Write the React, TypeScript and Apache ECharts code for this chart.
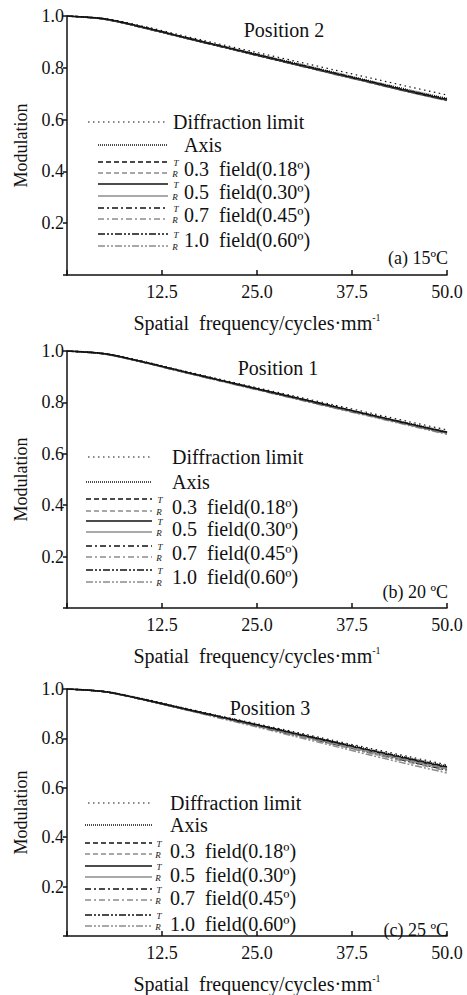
import React, { useEffect, useRef } from 'react';
import * as echarts from 'echarts';

// Spatial frequency sample points (cycles/mm)
const freq = [0, 5, 10, 15, 20, 25, 30, 35, 40, 45, 50];

// (a) Position 2, 15 ºC
const aDiff = [1.0, 0.99, 0.961, 0.926, 0.892, 0.859, 0.826, 0.793, 0.76, 0.727, 0.695];
const aAxis = [1.0, 0.989, 0.958, 0.922, 0.887, 0.853, 0.819, 0.784, 0.749, 0.715, 0.682];
const aT03 = [1.0, 0.989, 0.957, 0.921, 0.886, 0.851, 0.816, 0.781, 0.746, 0.711, 0.678];
const aR03 = [1.0, 0.988, 0.956, 0.92, 0.885, 0.85, 0.815, 0.78, 0.745, 0.71, 0.677];
const aT05 = [1.0, 0.988, 0.956, 0.92, 0.884, 0.849, 0.814, 0.779, 0.744, 0.709, 0.676];
const aR05 = [1.0, 0.988, 0.955, 0.919, 0.884, 0.849, 0.813, 0.778, 0.743, 0.708, 0.675];
const aT07 = [1.0, 0.988, 0.956, 0.92, 0.885, 0.85, 0.815, 0.78, 0.745, 0.71, 0.677];
const aR07 = [1.0, 0.988, 0.955, 0.919, 0.883, 0.848, 0.813, 0.777, 0.742, 0.707, 0.674];
const aT10 = [1.0, 0.988, 0.955, 0.919, 0.884, 0.849, 0.814, 0.779, 0.744, 0.709, 0.676];
const aR10 = [1.0, 0.987, 0.955, 0.918, 0.883, 0.847, 0.812, 0.776, 0.741, 0.706, 0.673];

// (b) Position 1, 20 ºC
const bDiff = [1.0, 0.99, 0.96, 0.925, 0.891, 0.857, 0.824, 0.791, 0.758, 0.725, 0.693];
const bAxis = [1.0, 0.989, 0.958, 0.923, 0.888, 0.854, 0.82, 0.786, 0.752, 0.719, 0.686];
const bT03 = [1.0, 0.989, 0.958, 0.922, 0.887, 0.853, 0.819, 0.785, 0.751, 0.717, 0.684];
const bR03 = [1.0, 0.989, 0.957, 0.921, 0.886, 0.852, 0.818, 0.783, 0.749, 0.715, 0.682];
const bT05 = [1.0, 0.989, 0.957, 0.922, 0.887, 0.852, 0.818, 0.784, 0.75, 0.716, 0.683];
const bR05 = [1.0, 0.988, 0.957, 0.921, 0.886, 0.851, 0.817, 0.782, 0.748, 0.714, 0.68];
const bT07 = [1.0, 0.989, 0.957, 0.921, 0.886, 0.852, 0.817, 0.783, 0.749, 0.715, 0.681];
const bR07 = [1.0, 0.988, 0.956, 0.92, 0.885, 0.85, 0.815, 0.781, 0.746, 0.712, 0.678];
const bT10 = [1.0, 0.988, 0.957, 0.921, 0.886, 0.851, 0.817, 0.782, 0.748, 0.714, 0.68];
const bR10 = [1.0, 0.988, 0.956, 0.92, 0.884, 0.849, 0.814, 0.779, 0.745, 0.71, 0.676];

// (c) Position 3, 25 ºC
const cDiff = [1.0, 0.99, 0.961, 0.926, 0.892, 0.859, 0.826, 0.792, 0.759, 0.726, 0.693];
const cAxis = [1.0, 0.989, 0.959, 0.924, 0.89, 0.856, 0.822, 0.788, 0.754, 0.721, 0.688];
const cT03 = [1.0, 0.989, 0.958, 0.923, 0.889, 0.855, 0.82, 0.786, 0.752, 0.718, 0.685];
const cR03 = [1.0, 0.989, 0.958, 0.923, 0.888, 0.853, 0.818, 0.783, 0.748, 0.714, 0.68];
const cT05 = [1.0, 0.989, 0.958, 0.923, 0.888, 0.854, 0.819, 0.785, 0.75, 0.716, 0.683];
const cR05 = [1.0, 0.989, 0.958, 0.922, 0.887, 0.851, 0.816, 0.78, 0.745, 0.71, 0.676];
const cT07 = [1.0, 0.989, 0.958, 0.922, 0.887, 0.852, 0.817, 0.782, 0.747, 0.712, 0.678];
const cR07 = [1.0, 0.989, 0.957, 0.921, 0.885, 0.849, 0.812, 0.776, 0.739, 0.703, 0.668];
const cT10 = [1.0, 0.989, 0.957, 0.922, 0.886, 0.85, 0.814, 0.778, 0.742, 0.707, 0.672];
const cR10 = [1.0, 0.988, 0.957, 0.92, 0.883, 0.846, 0.808, 0.77, 0.732, 0.695, 0.66];

const panelTitles = ['Position 2', 'Position 1', 'Position 3'];
const panelNotes = ['(a) 15ºC', '(b) 20 ºC', '(c) 25 ºC'];
const fieldLabels = ['0.3  field(0.18º)', '0.5  field(0.30º)', '0.7  field(0.45º)', '1.0  field(0.60º)'];
const seriesNames = ['Diffraction limit', 'Axis', 'T 0.3 field', 'R 0.3 field', 'T 0.5 field', 'R 0.5 field', 'T 0.7 field', 'R 0.7 field', 'T 1.0 field', 'R 1.0 field'];

const panelData = [
  [aDiff, aAxis, aT03, aR03, aT05, aR05, aT07, aR07, aT10, aR10],
  [bDiff, bAxis, bT03, bR03, bT05, bR05, bT07, bR07, bT10, bR10],
  [cDiff, cAxis, cT03, cR03, cT05, cR05, cT07, cR07, cT10, cR10],
];

const FONT = '"Liberation Serif", "Times New Roman", serif';
const BLACK = '#111';
const GRAY = '#8c8c8c';

const styles: any[] = [
  { color: BLACK, width: 1.2, type: [1.5, 3.5] },
  { color: BLACK, width: 1.3, type: [1, 1] },
  { color: BLACK, width: 1.5, type: [5, 3] },
  { color: GRAY, width: 1.5, type: [5, 3] },
  { color: BLACK, width: 1.6, type: 'solid' },
  { color: GRAY, width: 1.6, type: 'solid' },
  { color: BLACK, width: 1.5, type: [6, 3, 2, 3] },
  { color: GRAY, width: 1.5, type: [6, 3, 2, 3] },
  { color: BLACK, width: 1.5, type: [7, 2, 2, 2, 2, 2] },
  { color: GRAY, width: 1.5, type: [7, 2, 2, 2, 2, 2] },
];

const grids = [
  { left: 67, top: 16, width: 380, height: 259 },
  { left: 67, top: 351, width: 380, height: 257 },
  { left: 67, top: 689, width: 380, height: 259 },
];

const titlePos = [
  [284, 30],
  [278, 368],
  [270, 708],
];
const notePos = [
  [448, 258],
  [448, 592],
  [448, 930],
];

const legendCfg = [
  {
    diffY: 122, diffX1: 88, diffX2: 168, diffTextX: 173,
    axisY: 145, lx1: 98, lx2: 168, trX: 175, textX: 184,
    rows: [[162, 173, 169], [184, 196, 192], [208, 219, 215], [234, 246, 240]],
  },
  {
    diffY: 457, diffX1: 88, diffX2: 150, diffTextX: 172,
    axisY: 482, lx1: 86, lx2: 152, trX: 159, textX: 172,
    rows: [[499, 511, 507], [521, 532, 529], [546, 557, 553], [570, 582, 577]],
  },
  {
    diffY: 803, diffX1: 88, diffX2: 152, diffTextX: 170,
    axisY: 825, lx1: 85, lx2: 152, trX: 158, textX: 170,
    rows: [[843, 854, 851], [866, 877, 875], [889, 900, 898], [915, 926, 924]],
  },
];

function lineEl(x1: number, x2: number, y: number, st: any) {
  return {
    type: 'line',
    shape: { x1, y1: y, x2, y2: y },
    style: { stroke: st.color, lineWidth: st.width, lineDash: st.type === 'solid' ? null : st.type },
  };
}

function txt(x: number, y: number, text: string, size: number, align = 'left', italic = false) {
  return {
    type: 'text',
    x,
    y,
    style: {
      text,
      font: `${italic ? 'italic ' : ''}${size}px ${FONT}`,
      fill: BLACK,
      align,
      verticalAlign: 'middle',
      lineHeight: size,
    },
  };
}

function buildLegend(i: number) {
  const c = legendCfg[i];
  const els: any[] = [];
  els.push(lineEl(c.diffX1, c.diffX2, c.diffY, styles[0]));
  els.push(txt(c.diffTextX, c.diffY, seriesNames[0], 20));
  els.push(lineEl(c.lx1, c.lx2, c.axisY, styles[1]));
  els.push(txt(c.textX, c.axisY, seriesNames[1], 20));
  c.rows.forEach((r, k) => {
    els.push(lineEl(c.lx1, c.lx2, r[0], styles[2 + k * 2]));
    els.push(lineEl(c.lx1, c.lx2, r[1], styles[3 + k * 2]));
    els.push(txt(c.trX + 1, r[0] + 0.5, 'T', 9, 'center', true));
    els.push(txt(c.trX, r[1] + 1, 'R', 9, 'center', true));
    els.push(txt(c.textX, r[2], fieldLabels[k], 20));
  });
  els.push(txt(titlePos[i][0], titlePos[i][1], panelTitles[i], 20, 'center'));
  els.push(txt(notePos[i][0], notePos[i][1], panelNotes[i], 18, 'right'));
  return els;
}

export default function App() {
  const ref = useRef<HTMLDivElement>(null);
  useEffect(() => {
    document.body.style.margin = '0';
    const chart = echarts.init(ref.current!, null, { renderer: 'svg' });
    const xAxis: any[] = [];
    const yAxis: any[] = [];
    const series: any[] = [];
    grids.forEach((g, i) => {
      xAxis.push({
        type: 'value',
        gridIndex: i,
        min: 0,
        max: 50,
        interval: 12.5,
        name: 'Spatial  frequency/cycles·mm{sup|-1}',
        nameLocation: 'middle',
        nameGap: 37,
        nameTextStyle: {
          fontFamily: FONT,
          fontSize: 20,
          color: BLACK,
          rich: { sup: { fontFamily: FONT, fontSize: 10, color: BLACK, verticalAlign: 'top', padding: [0, 0, 12, 0] } },
        },
        axisLine: { show: true, lineStyle: { color: BLACK, width: 1.5 } },
        axisTick: { show: true, inside: true, length: 5, lineStyle: { color: BLACK, width: 1.5 } },
        axisLabel: {
          fontFamily: FONT,
          fontSize: 18,
          color: BLACK,
          margin: 8,
          formatter: (v: number) => (v === 0 ? '' : v.toFixed(1)),
        },
        splitLine: { show: false },
      });
      yAxis.push({
        type: 'value',
        gridIndex: i,
        min: 0,
        max: 1,
        interval: 0.2,
        name: 'Modulation',
        nameLocation: 'middle',
        nameRotate: 90,
        nameGap: 37,
        nameTextStyle: { fontFamily: FONT, fontSize: 18, color: BLACK },
        axisLine: { show: true, lineStyle: { color: BLACK, width: 1.5 } },
        axisTick: { show: true, inside: false, length: 4, lineStyle: { color: BLACK, width: 1.5 } },
        axisLabel: {
          fontFamily: FONT,
          fontSize: 18,
          color: BLACK,
          margin: 3,
          formatter: (v: number) => (v === 0 ? '' : v.toFixed(1)),
        },
        splitLine: { show: false },
      });
      panelData[i].forEach((vals, k) => {
        series.push({
          type: 'line',
          name: seriesNames[k],
          xAxisIndex: i,
          yAxisIndex: i,
          data: freq.map((f, j) => [f, vals[j]]),
          smooth: 0.3,
          showSymbol: false,
          lineStyle: styles[k],
          z: 10 - k,
        });
      });
    });
    const graphic: any[] = [];
    [0, 1, 2].forEach((i) => graphic.push(...buildLegend(i)));
    chart.setOption({
      animation: false,
      backgroundColor: '#fff',
      grid: grids,
      xAxis,
      yAxis,
      series,
      graphic,
    });
    return () => chart.dispose();
  }, []);
  return <div ref={ref} style={{ width: 467, height: 995 }} />;
}
